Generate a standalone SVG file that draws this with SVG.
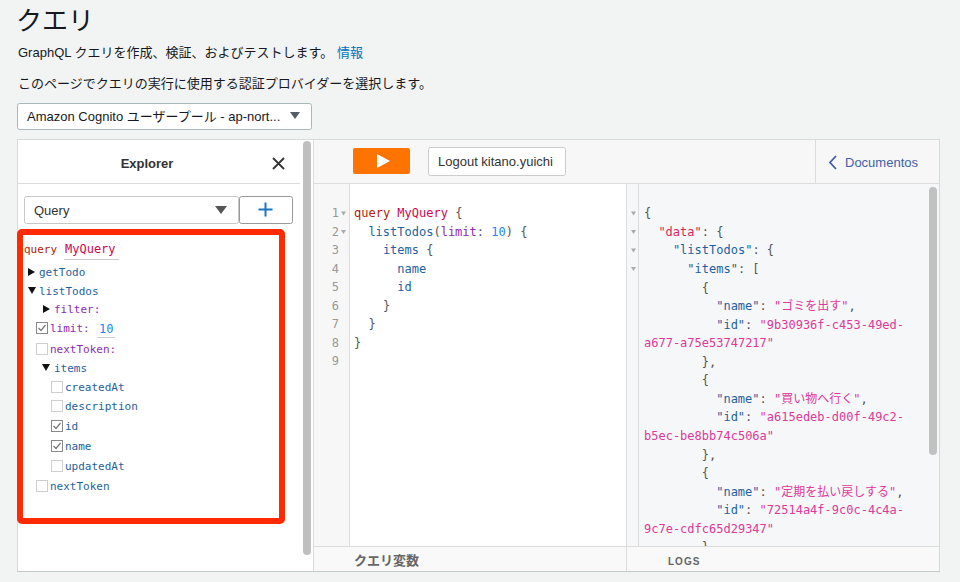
<svg xmlns="http://www.w3.org/2000/svg" width="960" height="582" viewBox="0 0 960 582">
<style>
.sans{font-family:"Liberation Sans","Noto Sans CJK JP",sans-serif}
.jp{font-family:"Noto Sans CJK JP","Liberation Sans",sans-serif}
.mono{font-family:"DejaVu Sans Mono","Noto Sans CJK JP",monospace}
.ex{font-size:11px}
.code{font-size:12px;fill:#555}
.blue{fill:#1f61a0}
.purple{fill:#8b2bb9}
.num{fill:#2882f9}
.kw{fill:#b11a04}
.def{fill:#d2054e}
.str{fill:#e0379a}
.key0{fill:#e01e5a}
.ln{font-size:12px;fill:#999;text-anchor:end}
.cbu{fill:#fff;stroke:#cfcfcf;stroke-width:1}
.cbc{fill:#fff;stroke:#888;stroke-width:1}
.chk{fill:none;stroke:#777;stroke-width:1.2}
.fold{fill:#aaa}
.sep{stroke:#dcdcdc;stroke-width:1}
</style>
<defs>
<clipPath id="resclip"><rect x="638" y="184" width="302" height="362"/></clipPath>
</defs>
<rect width="960" height="582" fill="#f2f3f3"/>

<g id="header">
<text class="jp" x="16" y="30" font-size="26" fill="#16191f">クエリ</text>
<text class="sans" x="18" y="57" font-size="13" fill="#16191f">GraphQL クエリを作成、検証、およびテストします。 <tspan fill="#0073bb">情報</tspan></text>
<text class="sans" x="18" y="88" font-size="13" fill="#16191f">このページでクエリの実行に使用する認証プロバイダーを選択します。</text>
</g>

<g id="auth-select">
<rect x="17.5" y="103.5" width="294" height="26" rx="2" fill="#fff" stroke="#aab7b8"/>
<text class="sans" x="27" y="121" font-size="13" fill="#16191f">Amazon Cognito ユーザープール - ap-nort...</text>
<polygon points="290,112 300,112 295,119" fill="#545b64"/>
</g>

<g id="panel-frame">
<rect x="17.5" y="139.5" width="922" height="432" fill="#fff" stroke="#d5dbdb"/>
</g>

<g id="explorer">
<rect x="18" y="140" width="282" height="431" fill="#fff"/>
<line class="sep" x1="18" y1="183.5" x2="300" y2="183.5"/>
<text class="sans" x="147" y="168" font-size="13" font-weight="bold" fill="#333" text-anchor="middle">Explorer</text>
<path d="M273,158 L284,169 M284,158 L273,169" stroke="#333" stroke-width="1.8" fill="none"/>
<rect x="24.5" y="196.5" width="214" height="27" rx="2" fill="#fff" stroke="#c8c8c8"/>
<text class="sans" x="34" y="215" font-size="13" fill="#333">Query</text>
<polygon points="215,206 227,206 221,214" fill="#555"/>
<rect x="239.5" y="196.5" width="53" height="27" rx="2" fill="#fff" stroke="#999"/>
<path d="M265.5,202.5 V216.5 M258.5,209.5 H272.5" stroke="#1a78c2" stroke-width="2" fill="none"/>
</g>

<g id="explorer-tree" class="mono ex">
<text x="24" y="253" class="kw">query</text>
<text x="65" y="253" font-size="12" class="def">MyQuery</text>
<line x1="64" y1="259.5" x2="119" y2="259.5" stroke="#ccc"/>
<polygon points="28,268 35,272 28,276" fill="#111"/>
<text x="39" y="276" class="blue">getTodo</text>
<polygon points="28,287 36,287 32,294" fill="#111"/>
<text x="39" y="295" class="blue">listTodos</text>
<polygon points="43,305 50,309 43,313" fill="#111"/>
<text x="54" y="313" class="purple">filter:</text>
<rect class="cbc" x="36.5" y="322.5" width="11" height="11"/>
<path class="chk" d="M38.5,328 L41,330.5 L45.5,325"/>
<text x="50" y="332" class="purple">limit:</text>
<text x="99" y="333" font-size="12" class="num">10</text>
<line x1="97" y1="337.5" x2="115" y2="337.5" stroke="#ccc"/>
<rect class="cbu" x="36.5" y="343.5" width="11" height="11"/>
<text x="50" y="353" class="purple">nextToken:</text>
<polygon points="42,364 50,364 46,371" fill="#111"/>
<text x="54" y="372" class="blue">items</text>
<rect class="cbu" x="51.5" y="381.5" width="11" height="11"/>
<text x="65" y="391" class="blue">createdAt</text>
<rect class="cbu" x="51.5" y="400.5" width="11" height="11"/>
<text x="65" y="410" class="blue">description</text>
<rect class="cbc" x="51.5" y="420.5" width="11" height="11"/>
<path class="chk" d="M53.5,426 L56,428.5 L60.5,423"/>
<text x="65" y="430" class="blue">id</text>
<rect class="cbc" x="51.5" y="440.5" width="11" height="11"/>
<path class="chk" d="M53.5,446 L56,448.5 L60.5,443"/>
<text x="65" y="450" class="blue">name</text>
<rect class="cbu" x="51.5" y="460.5" width="11" height="11"/>
<text x="65" y="470" class="blue">updatedAt</text>
<rect class="cbu" x="36.5" y="480.5" width="11" height="11"/>
<text x="50" y="490" class="blue">nextToken</text>
</g>

<g id="highlight">
<rect x="20" y="232" width="262" height="289" rx="2" fill="none" stroke="#ff2a00" stroke-width="6"/>
</g>

<g id="explorer-scroll">
<rect x="300" y="140" width="13" height="431" fill="#fff"/>
<rect x="303" y="141" width="8" height="414" rx="4" fill="#bfbfbf"/>
<line class="sep" x1="313.5" y1="140" x2="313.5" y2="571"/>
</g>

<g id="toolbar">
<rect x="314" y="140" width="625" height="43" fill="#f7f7f7"/>
<line class="sep" x1="314" y1="183.5" x2="939" y2="183.5"/>
<rect x="353" y="148" width="57" height="26" rx="2" fill="#ff7300"/>
<polygon points="377,154 377,168 390,161" fill="#fff"/>
<rect x="428.5" y="147.5" width="137" height="28" rx="2" fill="#fff" stroke="#ccc"/>
<text class="sans" x="438" y="166" font-size="13" fill="#333">Logout kitano.yuichi</text>
<line class="sep" x1="815.5" y1="140" x2="815.5" y2="183"/>
<path d="M836,156 L830,162.5 L836,169" fill="none" stroke="#3e61a8" stroke-width="1.8"/>
<text class="sans" x="845" y="167" font-size="13" fill="#3e61a8">Documentos</text>
</g>

<g id="editor">
<rect x="314" y="184" width="35" height="362" fill="#f7f7f7"/>
<line class="sep" x1="349.5" y1="184" x2="349.5" y2="546"/>
<rect x="350" y="184" width="276" height="362" fill="#fff"/>
<g class="mono">
<text class="ln" x="339" y="217.3">1</text>
<text class="ln" x="339" y="235.8">2</text>
<text class="ln" x="339" y="254.3">3</text>
<text class="ln" x="339" y="272.8">4</text>
<text class="ln" x="339" y="291.3">5</text>
<text class="ln" x="339" y="309.8">6</text>
<text class="ln" x="339" y="328.3">7</text>
<text class="ln" x="339" y="346.8">8</text>
<text class="ln" x="339" y="365.3">9</text>
<polygon class="fold" points="341,211.5 346,211.5 343.5,215.5"/>
<polygon class="fold" points="341,230 346,230 343.5,234"/>
<text class="code" x="354" y="217.3"><tspan class="kw">query</tspan> <tspan class="def">MyQuery</tspan> {</text>
<text class="code" x="368.4" y="235.8"><tspan class="blue">listTodos</tspan>(<tspan class="purple">limit</tspan>: <tspan class="num">10</tspan>) {</text>
<text class="code" x="382.9" y="254.3"><tspan class="blue">items</tspan> {</text>
<text class="code blue" x="397.3" y="272.8">name</text>
<text class="code blue" x="397.3" y="291.3">id</text>
<text class="code" x="382.9" y="309.8">}</text>
<text class="code" x="368.4" y="328.3">}</text>
<text class="code" x="354" y="346.8">}</text>
</g>
</g>

<g id="result">
<rect x="626" y="184" width="313" height="362" fill="#f6f7f8"/>
<line class="sep" x1="626.5" y1="184" x2="626.5" y2="571"/>
<line class="sep" x1="638.5" y1="184" x2="638.5" y2="546"/>
<polygon class="fold" points="631,211.5 636,211.5 633.5,215.5"/>
<polygon class="fold" points="631,230 636,230 633.5,234"/>
<polygon class="fold" points="631,248.5 636,248.5 633.5,252.5"/>
<polygon class="fold" points="631,267 636,267 633.5,271"/>
<g class="mono" clip-path="url(#resclip)">
<text class="code" x="644" y="217.3">{</text>
<text class="code" x="658.4" y="235.9"><tspan class="key0">"data"</tspan>: {</text>
<text class="code" x="672.9" y="254.4"><tspan class="blue">"listTodos"</tspan>: {</text>
<text class="code" x="687.3" y="273">"<tspan class="blue">items</tspan>": [</text>
<text class="code" x="701.8" y="291.5">{</text>
<text class="code" x="716.2" y="310.1"><tspan class="blue">"name"</tspan>: <tspan class="str">"ゴミを出す"</tspan>,</text>
<text class="code" x="716.2" y="328.6"><tspan class="blue">"id"</tspan>: <tspan class="str">"9b30936f-c453-49ed-</tspan></text>
<text class="code str" x="644" y="347.2">a677-a75e53747217"</text>
<text class="code" x="701.8" y="365.7">},</text>
<text class="code" x="701.8" y="384.3">{</text>
<text class="code" x="716.2" y="402.8"><tspan class="blue">"name"</tspan>: <tspan class="str">"買い物へ行く"</tspan>,</text>
<text class="code" x="716.2" y="421.4"><tspan class="blue">"id"</tspan>: <tspan class="str">"a615edeb-d00f-49c2-</tspan></text>
<text class="code str" x="644" y="439.9">b5ec-be8bb74c506a"</text>
<text class="code" x="701.8" y="458.5">},</text>
<text class="code" x="701.8" y="477">{</text>
<text class="code" x="716.2" y="495.6"><tspan class="blue">"name"</tspan>: <tspan class="str">"定期を払い戻しする"</tspan>,</text>
<text class="code" x="716.2" y="514.1"><tspan class="blue">"id"</tspan>: <tspan class="str">"72514a4f-9c0c-4c4a-</tspan></text>
<text class="code str" x="644" y="532.7">9c7e-cdfc65d29347"</text>
<text class="code" x="701.8" y="551.2">}</text>
</g>
<rect x="929" y="187" width="8" height="268" rx="4" fill="#c1c1c1"/>
</g>

<g id="bottom-bar">
<rect x="314" y="546" width="625" height="25" fill="#f9f9f9"/>
<line class="sep" x1="314" y1="546.5" x2="939" y2="546.5"/>
<line class="sep" x1="626.5" y1="546" x2="626.5" y2="571"/>
<text class="jp" x="354" y="565" font-size="13" font-weight="bold" fill="#666">クエリ変数</text>
<text class="sans" x="668" y="565" font-size="10" font-weight="bold" letter-spacing="1" fill="#666">LOGS</text>
<line x1="17" y1="571.5" x2="940" y2="571.5" stroke="#c4c9cc"/>
</g>
</svg>
